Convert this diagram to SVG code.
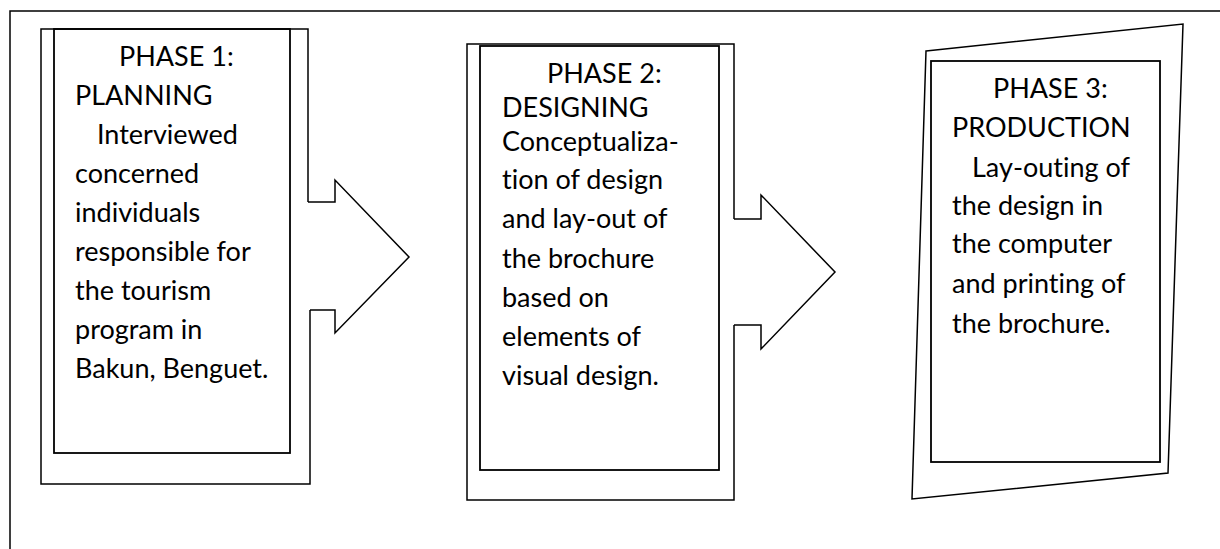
<svg xmlns="http://www.w3.org/2000/svg" width="1220" height="549" viewBox="0 0 1220 549">
<style>
.ln{fill:none;stroke:#000;stroke-width:1.5;stroke-linejoin:miter}
.in{fill:none;stroke:#000;stroke-width:1.8}
text{font-family:Lato,"Liberation Sans",sans-serif;font-size:27px;fill:#000;font-variant-ligatures:none;font-feature-settings:"liga" 0,"clig" 0}
</style>
<rect width="1220" height="549" fill="#fff"/>
<g id="frame"><path class="ln" d="M1221,11 H10 V550"/></g>
<g id="phase1">
<path class="ln" d="M308,202 V29 H41 V484 H310 V310"/>
<rect class="in" x="54" y="29" width="236" height="424"/>
<text x="119" y="66">PHASE 1:</text>
<text x="75" y="105">PLANNING</text>
<text x="97" y="144">Interviewed</text>
<text x="75" y="183">concerned</text>
<text x="75" y="222">individuals</text>
<text x="75" y="261">responsible for</text>
<text x="75" y="300">the tourism</text>
<text x="75" y="339">program in</text>
<text x="75" y="378">Bakun, Benguet.</text>
</g>
<g id="phase2">
<path class="ln" d="M734,219 V44 H467 V500 H734 V325"/>
<rect class="in" x="480" y="46" width="239" height="424"/>
<text x="547" y="83">PHASE 2:</text>
<text x="502" y="117">DESIGNING</text>
<text x="502" y="151">Conceptualiza-</text>
<text x="502" y="189">tion of design</text>
<text x="502" y="228">and lay-out of</text>
<text x="502" y="268">the brochure</text>
<text x="502" y="307">based on</text>
<text x="502" y="346">elements of</text>
<text x="502" y="385">visual design.</text>
</g>
<g id="phase3">
<path class="ln" d="M926,51 L1183,24 L1168,473 L912,499 Z"/>
<rect class="in" x="931" y="61" width="229" height="401"/>
<text x="993" y="98">PHASE 3:</text>
<text x="952" y="137">PRODUCTION</text>
<text x="972" y="177">Lay-outing of</text>
<text x="952" y="215">the design in</text>
<text x="952" y="253">the computer</text>
<text x="952" y="293">and printing of</text>
<text x="952" y="333">the brochure.</text>
</g>
<g id="connectors">
<path class="ln" d="M308,202 H335 V180 L409,257 L335,333 V310 H310"/>
<path class="ln" d="M734,219 H761 V195 L835,272 L761,349 V325 H734"/>
</g>
</svg>
